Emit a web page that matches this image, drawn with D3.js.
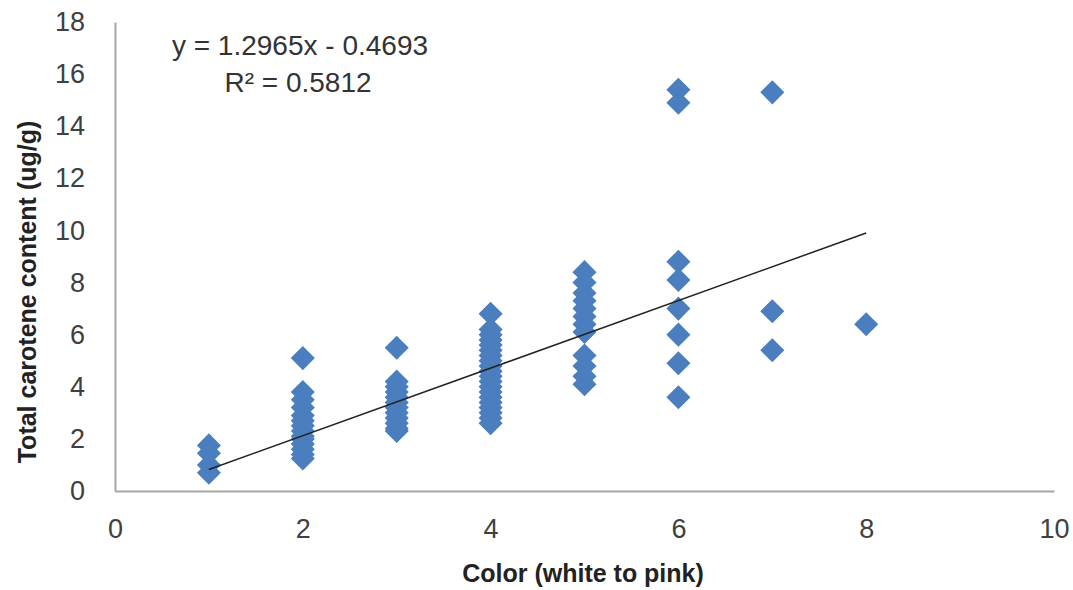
<!DOCTYPE html>
<html><head><meta charset="utf-8">
<script src="https://cdn.jsdelivr.net/npm/d3@7"></script>
<style>body{margin:0;background:#fff}svg{display:block}</style>
</head><body>
<svg id="c" width="1073" height="590"></svg>
<script>
// Data
const colorX = [1,1,1,1,
  2,2,2,2,2,2,2,2,2,2,2,2,2,2,
  3,3,3,3,3,3,3,3,3,3,3,3,
  4,4,4,4,4,4,4,4,4,4,4,4,4,4,4,4,4,4,4,4,
  5,5,5,5,5,5,5,5,5,5,5,5,
  6,6,6,6,6,6,6,6,
  7,7,7,
  8];
const caroteneY = [1.75,1.45,1.0,0.7,
  5.1,3.8,3.5,3.2,2.9,2.7,2.5,2.3,2.1,2.0,1.8,1.6,1.4,1.25,
  5.5,4.2,4.0,3.8,3.6,3.4,3.2,3.0,2.8,2.6,2.4,2.3,
  6.8,6.2,6.0,5.8,5.6,5.4,5.2,5.0,4.8,4.6,4.4,4.2,4.0,3.8,3.6,3.4,3.2,3.0,2.8,2.6,
  8.4,8.0,7.6,7.3,7.0,6.7,6.4,6.1,5.2,4.8,4.4,4.1,
  15.4,14.9,8.8,8.1,7.0,6.0,4.9,3.6,
  15.3,6.9,5.4,
  6.4];
const xTicks = [0,2,4,6,8,10];
const yTicks = [0,2,4,6,8,10,12,14,16,18];
const slope = 1.2965, intercept = -0.4693;
const trendX = [1, 8];
const eqLabel = "y = 1.2965x - 0.4693";
const r2Label = "R² = 0.5812";
const xTitle = "Color (white to pink)";
const yTitle = "Total carotene content (ug/g)";

const svg = d3.select("#c");
const x = d3.scaleLinear().domain([0,10]).range([115,1054]);
const y = d3.scaleLinear().domain([0,18]).range([491,22]);

const axisColor = "#a6a6a6", tickColor = "#404040";
const font = "'Liberation Sans', Arial, sans-serif";

// axes
const xa = svg.append("g").attr("transform",`translate(0,${y(0)})`)
  .call(d3.axisBottom(x).tickValues(xTicks).tickSize(0).tickPadding(28));
const ya = svg.append("g").attr("transform",`translate(${x(0)},0)`)
  .call(d3.axisLeft(y).tickValues(yTicks).tickSize(0).tickPadding(30));
[xa,ya].forEach(a=>{
  a.select(".domain").attr("stroke",axisColor).attr("stroke-width",2);
  a.selectAll("text").attr("fill",tickColor).style("font-family",font).style("font-size","27px");
});

// points
const pts = colorX.map((c,i)=>({c, v: caroteneY[i]}));
const diamondType = {draw(ctx,size){const r=Math.sqrt(size/2);ctx.moveTo(0,-r);ctx.lineTo(r,0);ctx.lineTo(0,r);ctx.lineTo(-r,0);ctx.closePath();}};
svg.append("g").selectAll("path").data(pts).join("path")
  .attr("transform", d=>`translate(${x(d.c)},${y(d.v)})`)
  .attr("d", d3.symbol().type(diamondType).size(290))
  .attr("fill","#4a7ebf");

// trendline
svg.append("line")
  .attr("x1",x(trendX[0])).attr("y1",y(slope*trendX[0]+intercept))
  .attr("x2",x(trendX[1])).attr("y2",y(slope*trendX[1]+intercept))
  .attr("stroke","#222").attr("stroke-width",1.5);

// equation
svg.append("text").attr("x",300).attr("y",55).attr("text-anchor","middle")
  .style("font-family",font).style("font-size","28px").attr("fill","#333").text(eqLabel);
svg.append("text").attr("x",298).attr("y",92).attr("text-anchor","middle")
  .style("font-family",font).style("font-size","28px").attr("fill","#333").text(r2Label);

// titles
svg.append("text").attr("x",583).attr("y",582).attr("text-anchor","middle")
  .style("font-family",font).style("font-size","25px").style("font-weight","bold").attr("fill","#222").text(xTitle);
svg.append("text").attr("transform","translate(36,292) rotate(-90)").attr("text-anchor","middle")
  .style("font-family",font).style("font-size","25px").style("font-weight","bold").attr("fill","#222").text(yTitle);
</script>
</body></html>
